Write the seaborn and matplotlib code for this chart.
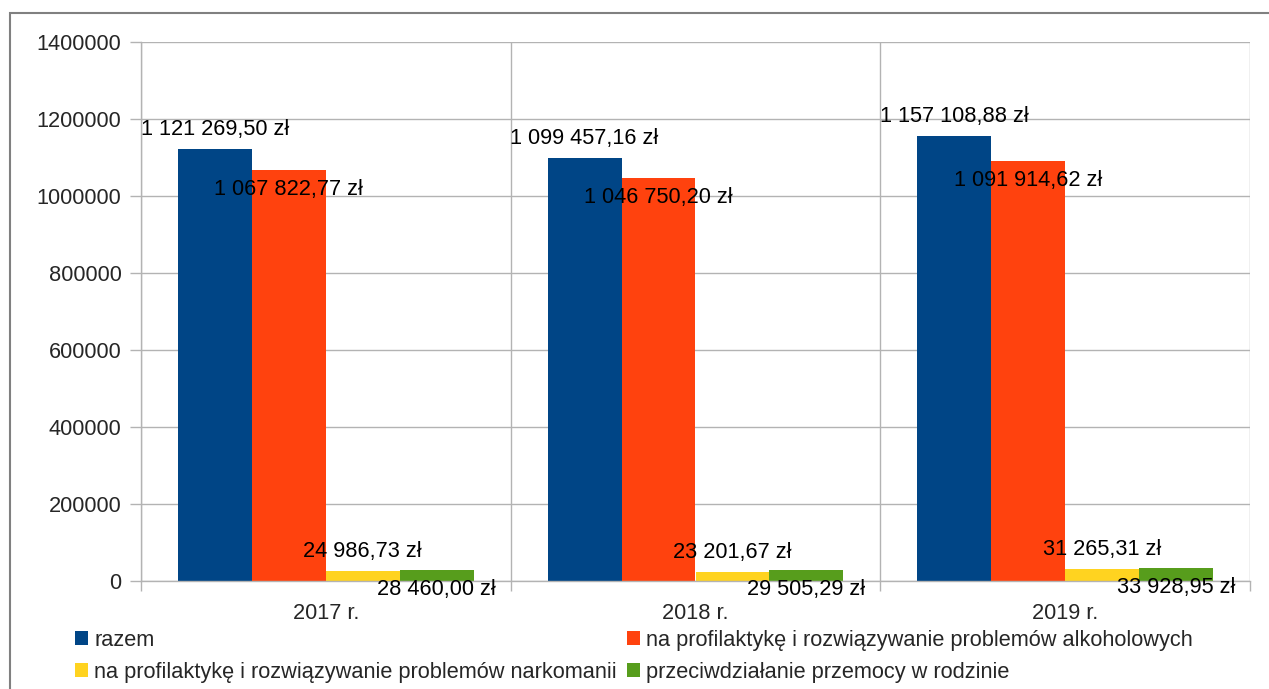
import matplotlib
matplotlib.use("Agg")
import matplotlib.pyplot as plt
from matplotlib.patches import Patch, Rectangle
import seaborn as sns
import pandas as pd

years = ["2017 r.", "2018 r.", "2019 r."]
series = [
    "razem",
    "na profilaktykę i rozwiązywanie problemów alkoholowych",
    "na profilaktykę i rozwiązywanie problemów narkomanii",
    "przeciwdziałanie przemocy w rodzinie",
]
razem = [1121269.50, 1099457.16, 1157108.88]
alkohol = [1067822.77, 1046750.20, 1091914.62]
narkomania = [24986.73, 23201.67, 31265.31]
przemoc = [28460.00, 29505.29, 33928.95]
colors = ["#004586", "#ff420e", "#ffd320", "#579d1c"]
yticks = [0, 200000, 400000, 600000, 800000, 1000000, 1200000, 1400000]

values = [razem, alkohol, narkomania, przemoc]
df = pd.DataFrame({
    "rok": years * 4,
    "seria": [s for s in series for _ in years],
    "kwota": [v for vals in values for v in vals],
})


def fmt_pln(v):
    s = f"{v:,.2f}"
    whole, frac = s.split(".")
    return whole.replace(",", " ") + "," + frac + " zł"


FS = 15.7

sns.set_theme(style="white")
plt.rcParams["font.family"] = ["Liberation Sans", "DejaVu Sans"]

fig = plt.figure(figsize=(12.69, 6.89), dpi=100)
ax = fig.add_axes([141 / 1269, 1 - 581 / 689, (1250 - 141) / 1269, (581 - 42) / 689])

sns.barplot(data=df, x="rok", y="kwota", hue="seria", hue_order=series,
            palette=colors, saturation=1, width=0.8, legend=False,
            linewidth=0, edgecolor="none", ax=ax)

# labels alternate above / below the bar top, like in the original
for i, cont in enumerate(ax.containers):
    off = 14 if i % 2 == 0 else -14
    for bar in cont:
        h = bar.get_height()
        ax.annotate(fmt_pln(h), (bar.get_x() + bar.get_width() / 2, h),
                    xytext=(0, off), textcoords="offset points",
                    ha="center", va="center", fontsize=FS, color="black")

ax.set_ylim(0, 1400000)
ax.set_xlim(-0.5, 2.5)
ax.set_yticks(yticks)
ax.set_yticklabels([str(t) for t in yticks], fontsize=FS)
ax.set_xticks([0, 1, 2])
ax.set_xticklabels(years, fontsize=FS)
ax.set_xticks([-0.5, 0.5, 1.5, 2.5], minor=True)
ax.set_xlabel("")
ax.set_ylabel("")

grid_c = "#b3b3b3"
ax.grid(axis="y", color=grid_c, linewidth=1)
ax.grid(axis="x", which="minor", color=grid_c, linewidth=1)
ax.set_axisbelow(True)
for sp in ["top", "right"]:
    ax.spines[sp].set_visible(False)
for sp in ["left", "bottom"]:
    ax.spines[sp].set_color(grid_c)
    ax.spines[sp].set_linewidth(1)
ax.tick_params(axis="y", which="major", length=8, color=grid_c, width=1, pad=6, left=True)
ax.tick_params(axis="x", which="major", length=0, pad=16)
ax.tick_params(axis="x", which="minor", length=7, color=grid_c, width=1, bottom=True)

handles = [Patch(facecolor=colors[k], edgecolor="none", label=series[k]) for k in [0, 2, 1, 3]]
fig.legend(handles=handles, loc="upper left", bbox_to_anchor=(66 / 1269, 1 - 621 / 689),
           ncol=2, frameon=False, fontsize=FS, handlelength=0.6, handleheight=0.6,
           handletextpad=0.3, columnspacing=0.45, labelspacing=0.5, borderaxespad=0)

fig.patches.append(Rectangle((10 / 1269, -0.05), 1.1, 1 - 13 / 689 + 0.05,
                             transform=fig.transFigure, fill=False,
                             edgecolor="#808080", linewidth=1.5))

fig.savefig("out.png", dpi=100)
